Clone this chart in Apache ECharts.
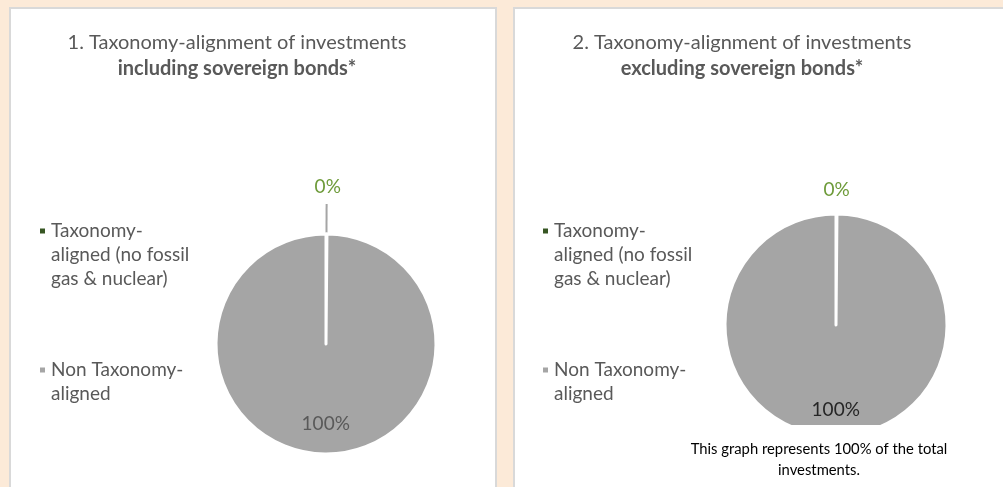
<!DOCTYPE html>
<html>
<head>
<meta charset="utf-8">
<script src="https://cdn.jsdelivr.net/npm/echarts@6/dist/echarts.min.js"></script>
<style>
html,body{margin:0;padding:0;background:#FCEAD8;}
#chart{width:1003px;height:487px;}
</style>
</head>
<body>
<div id="chart"></div>
<script>
var categories = ['Taxonomy-aligned (no fossil gas & nuclear)', 'Non Taxonomy-aligned'];
var legendLabels = [' \n \nTaxonomy-\naligned (no fossil\ngas & nuclear)', ' \nNon Taxonomy-\naligned'];
var valuesIncl = [0, 100];
var valuesExcl = [0, 100];
var titles = [
  ['1. Taxonomy-alignment of investments', 'including sovereign bonds*'],
  ['2. Taxonomy-alignment of investments', 'excluding sovereign bonds*']
];
var footnote = 'This graph represents 100% of the total\ninvestments.';

var GREEN = '#375623';
var LABEL_GREEN = '#6E9B3A';
var GREY = '#A5A5A5';
var TXT = '#595959';
var FONT = 'Lato';

var chart = echarts.init(document.getElementById('chart'), null, {renderer: 'canvas'});

function makeLegend(idx, left, top) {
  return {
    orient: 'vertical', left: left, top: top, padding: 0,
    itemWidth: 7, itemHeight: 7, icon: 'rect', selectedMode: false,
    data: [{name: categories[idx], itemStyle: {color: idx === 0 ? GREEN : GREY}}],
    formatter: function () { return legendLabels[idx]; },
    textStyle: {color: TXT, fontFamily: FONT, fontSize: 19, lineHeight: 24}
  };
}

function makePie(values, cx, cy, r, showLine, dy100, col100, zeroLen, zeroDy, zeroDx) {
  return {
    type: 'pie', center: [cx, cy], radius: [0, r], startAngle: 90, clockwise: true,
    minAngle: 0.5, avoidLabelOverlap: false, animation: false,
    itemStyle: {borderColor: '#ffffff', borderWidth: 3},
    labelLayout: function (p) { return p.dataIndex === 1 ? {dy: dy100} : {dy: zeroDy, dx: zeroDx}; },
    data: [
      {name: categories[0], value: values[0], itemStyle: {color: GREEN},
       label: {show: true, position: 'outside', formatter: '{d}%', color: LABEL_GREEN, fontFamily: FONT, fontSize: 19},
       labelLine: {show: showLine, length: zeroLen, length2: 0, lineStyle: {color: GREY, width: 2}}},
      {name: categories[1], value: values[1], itemStyle: {color: GREY},
       label: {show: true, position: 'inside', formatter: '{d}%', color: col100, fontFamily: FONT, fontSize: 19},
       labelLine: {show: false}}
    ]
  };
}

function makeTitle(t, x) {
  return {text: t[0] + '\n{b|' + t[1] + '}', left: x, top: 25, textAlign: 'center',
    textStyle: {color: TXT, fontFamily: FONT, fontSize: 20, fontWeight: 'normal', lineHeight: 26,
      rich: {b: {color: TXT, fontFamily: FONT, fontSize: 20, fontWeight: 'bold', lineHeight: 26}}}};
}

var option = {
  backgroundColor: '#FCEAD8',
  title: [makeTitle(titles[0], 232), makeTitle(titles[1], 737)],
  legend: [
    makeLegend(0, 38, 171),
    makeLegend(1, 38, 334),
    makeLegend(0, 541, 171),
    makeLegend(1, 541, 334)
  ],
  graphic: [
    {type: 'rect', z: -10, shape: {x: 10, y: 8, width: 486, height: 500},
     style: {fill: '#ffffff', stroke: '#D9D9D9', lineWidth: 2}},
    {type: 'rect', z: -10, shape: {x: 514, y: 8, width: 500, height: 500},
     style: {fill: '#ffffff', stroke: '#D9D9D9', lineWidth: 2}},
    {type: 'rect', z: 50, shape: {x: 700, y: 425, width: 280, height: 70},
     style: {fill: '#ffffff'}},
    {type: 'text', z: 51, x: 819, y: 439,
     style: {text: footnote, fill: '#000000', font: '14.8px Lato', textAlign: 'center', lineHeight: 21}}
  ],
  series: [
    makePie(valuesIncl, 326, 344, 110, true, 22, TXT, 30, -17, -17),
    makePie(valuesExcl, 836, 325, 111, false, 26, '#262626', 15, -9, -18)
  ]
};
chart.setOption(option);
</script>
</body>
</html>
